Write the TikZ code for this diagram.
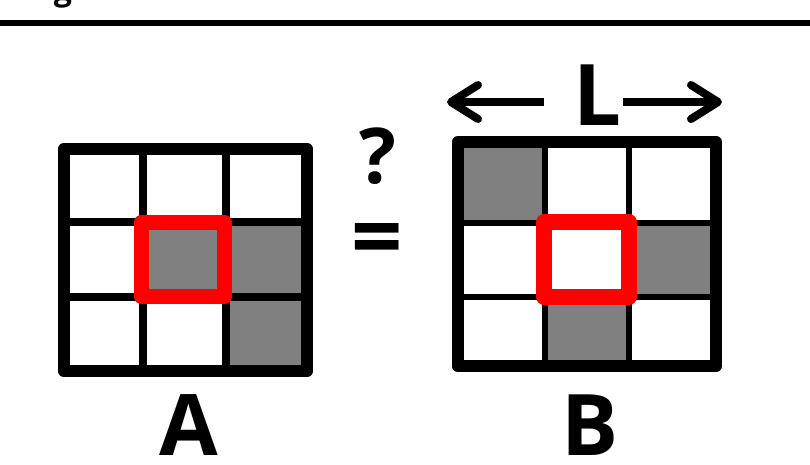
\documentclass[tikz,border=0pt]{standalone}
\usepackage{fontspec}
\setmainfont{Open Sans}
\begin{document}
\begin{tikzpicture}[x=1pt,y=-1pt,
  frame/.style={draw=black,line width=12.5pt,line join=round},
  gridA/.style={draw=black,line width=8pt},
  gridB/.style={draw=black,line width=6pt},
  shade/.style={fill=black!50},
  focus/.style={draw=red,line width=15.5pt,line join=round},
  lbl/.style={font=\bfseries\fontsize{85}{90}\selectfont,inner sep=0pt,anchor=base},
  dimline/.style={draw=black,line width=8pt},
  chevron/.style={draw=black,line width=8pt,line cap=round,line join=round}]
\useasboundingbox (0,0) rectangle (810,464);

% heading rule with the tail of the title above it
\node[font=\bfseries\fontsize{32}{36}\selectfont,inner sep=0pt,anchor=base] (ttl) at (63,0) {g};
\draw[line width=6pt] (0,23) -- (810,23);

% ---- grid A ----
\fill[shade] (143,222) rectangle (307,297);
\fill[shade] (226,297) rectangle (307,371);
\draw[gridA] (143,149) -- (143,371) (226,149) -- (226,371);
\draw[gridA] (64,222) -- (307,222) (64,297) -- (307,297);
\draw[frame] (64,149) rectangle (307,371);
\draw[focus] (141.5,222.5) rectangle (224.5,296.5);
\node[lbl] (A) at (189,455) {A};

% ---- equality sign with question mark ----
\node[font=\bfseries\fontsize{77}{80}\selectfont,inner sep=0pt,anchor=base] (q) at (378,183) {?};
\node[font=\bfseries\fontsize{90}{90}\selectfont,inner sep=0pt] (eq) at (377,246) {=};

% ---- grid B ----
\fill[shade] (458,142) rectangle (544.5,222.5);
\fill[shade] (629,222.5) rectangle (716,296.5);
\fill[shade] (544.5,296.5) rectangle (629,366);
\draw[gridB] (544.5,142) -- (544.5,366) (629,142) -- (629,366);
\draw[gridB] (458,222.5) -- (716,222.5) (458,296.5) -- (716,296.5);
\draw[frame] (458,142) rectangle (716,366);
\draw[focus] (544,222) rectangle (629,297);
\node[lbl] (B) at (590,455) {B};

% ---- width marker ----
\node[lbl] (L) at (597,125) {L};
\coordinate (lt) at (451,102);
\coordinate (rt) at (718,102);
\draw[dimline] (544,102) -- (lt);
\draw[chevron] (478,85) -- (lt) -- (478,119);
\draw[dimline] (623,102) -- (rt);
\draw[chevron] (691,85) -- (rt) -- (691,119);
\end{tikzpicture}
\end{document}
